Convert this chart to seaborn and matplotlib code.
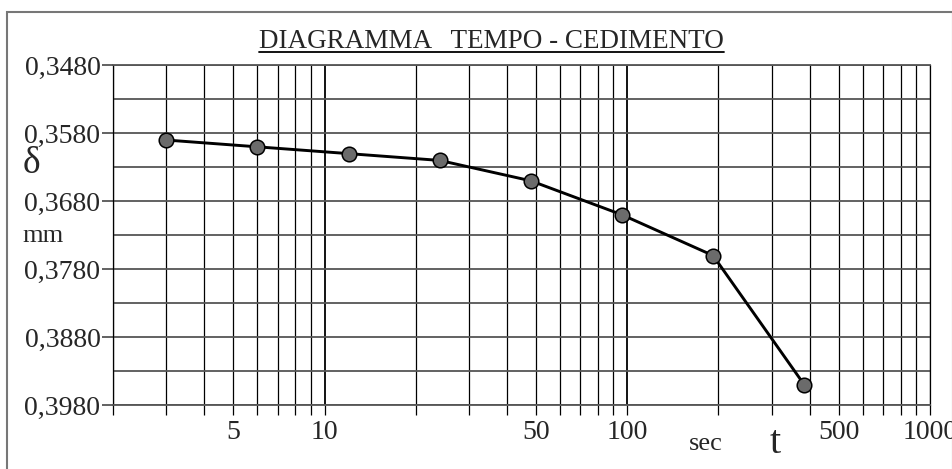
import matplotlib
matplotlib.use("Agg")
import matplotlib.pyplot as plt
from matplotlib.ticker import FixedLocator, FuncFormatter, NullFormatter
from matplotlib.patches import Rectangle
import seaborn as sns
import pandas as pd

# dati
tempo = [3, 6, 12, 24, 48, 96, 192, 384]          # sec
cedimento = [0.3590, 0.3600, 0.3610, 0.3620, 0.3650, 0.3700, 0.3760, 0.3950]  # mm

y_ticks = [0.348, 0.358, 0.368, 0.378, 0.388, 0.398]
y_minor = [0.353, 0.363, 0.373, 0.383, 0.393]
x_labels = [5, 10, 50, 100, 500, 1000]

sns.set_style("white")
plt.rcParams['font.family'] = ['Liberation Serif', 'DejaVu Serif']

df = pd.DataFrame({"t": tempo, "delta": cedimento})

fig = plt.figure(figsize=(9.53, 4.69), dpi=100)
ax = fig.add_axes([113/953, 1-405/469, (930-113)/953, (405-65.3)/469])

sns.lineplot(data=df, x="t", y="delta", ax=ax, color="black", linewidth=2.1,
             marker="o", markersize=10.5, markerfacecolor="#6b6b6b",
             markeredgecolor="black", markeredgewidth=1.1, zorder=5)

ax.set_xscale("log")
ax.set_xlim(2, 1000)
ax.set_ylim(0.398, 0.348)

# griglia verticale: 2..9, 10..90, 100..1000
xgrid = [m * 10**e for e in range(0, 3) for m in range(1, 10)] + [1000]
xgrid = [v for v in xgrid if 2 <= v <= 1000]
ax.xaxis.set_major_locator(FixedLocator(x_labels))
ax.xaxis.set_minor_locator(FixedLocator(xgrid))
ax.xaxis.set_major_formatter(FuncFormatter(lambda v, p: f"{int(v)}"))
ax.xaxis.set_minor_formatter(NullFormatter())
for v in xgrid:
    lw = 1.3 if v in (10, 100) else 0.9
    ax.axvline(v, color="black", linewidth=lw, zorder=1)

ax.yaxis.set_major_locator(FixedLocator(y_ticks))
ax.yaxis.set_major_formatter(FuncFormatter(lambda v, p: f"{v:.4f}".replace(".", ",")))
for v in y_ticks + y_minor:
    ax.axhline(v, color="#555555", linewidth=1.3, zorder=1)

ax.tick_params(axis="x", which="both", direction="out", length=7, width=0.9,
               color="black", bottom=True, labelsize=20, pad=4)
ax.tick_params(axis="y", which="major", direction="out", length=8, width=1.3,
               color="#555555", left=True, labelsize=20, pad=1)

for side in ["top", "bottom"]:
    ax.spines[side].set_color("#555555")
    ax.spines[side].set_linewidth(1.3)
for side in ["left", "right"]:
    ax.spines[side].set_color("black")
    ax.spines[side].set_linewidth(0.9)

ax.set_xlabel("")
ax.set_ylabel("")

# titolo sottolineato
fig.text(491/953, 1-42/469, "DIAGRAMMA   TEMPO - CEDIMENTO", ha="center", va="center",
         fontsize=19.5)
fig.add_artist(plt.Line2D([259/953, 724/953], [1-52/469, 1-52/469], color="black", linewidth=1.3))

# etichette assi
fig.text(31/953, 1-164/469, "δ", ha="center", va="center", fontsize=27)
fig.text(43/953, 1-236/469, "mm", ha="center", va="center", fontsize=19)
fig.text(706/953, 1-444/469, "sec", ha="center", va="center", fontsize=19)
fig.text(775/953, 1-443/469, "t", ha="center", va="center", fontsize=29)

# cornice esterna
fig.add_artist(Rectangle((7/953, -0.1), 946/953, 1 + 0.1 - 12/469, transform=fig.transFigure,
                         fill=False, edgecolor="#777777", linewidth=1.5))

fig.savefig("out.png", dpi=100)
